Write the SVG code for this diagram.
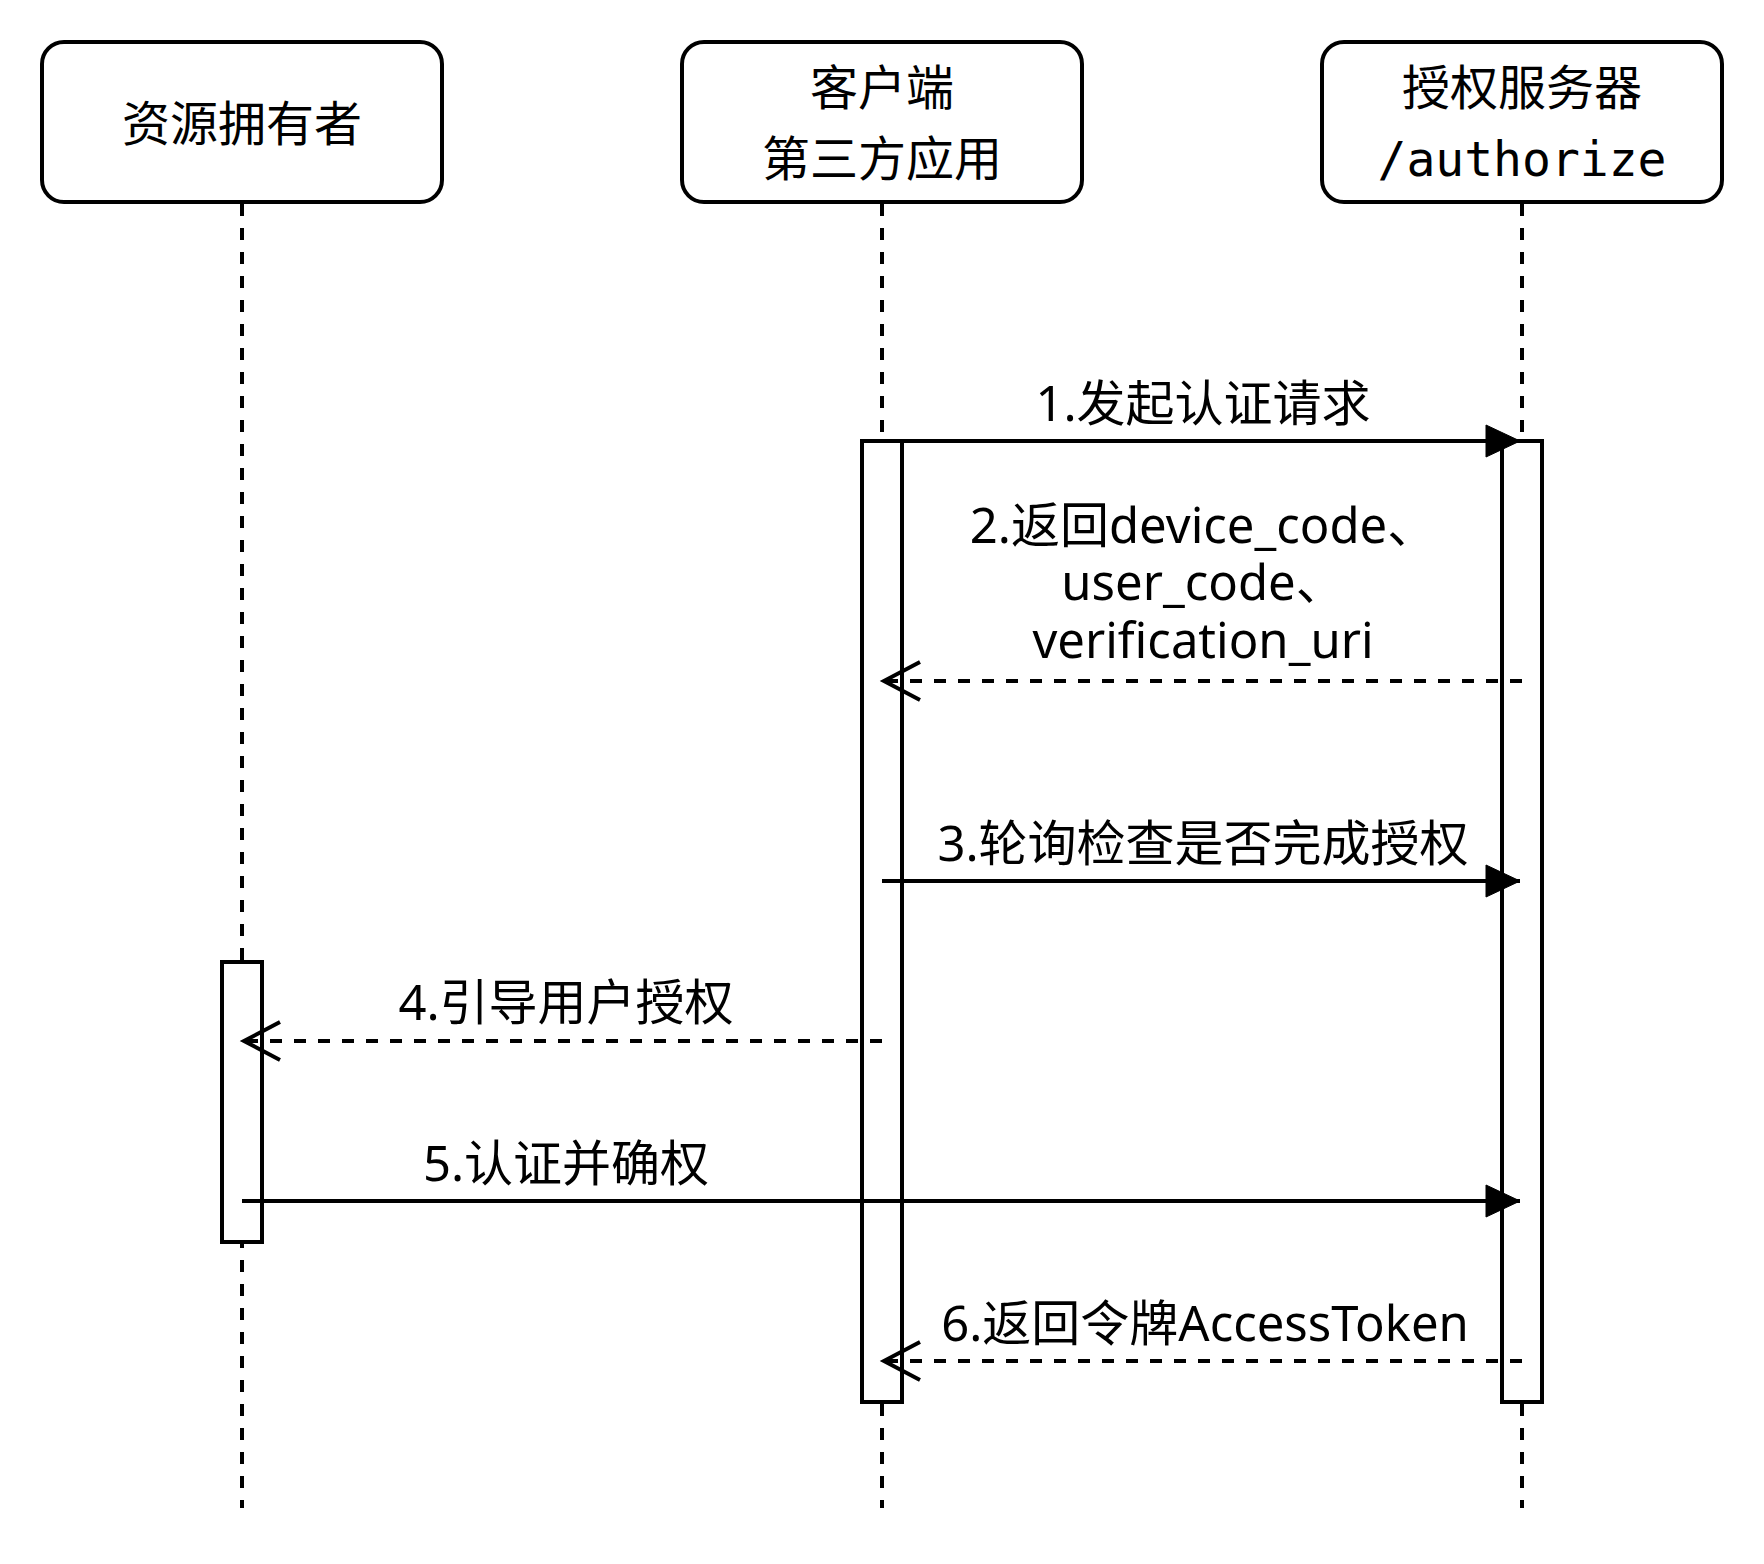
<svg xmlns="http://www.w3.org/2000/svg" width="1764" height="1564" viewBox="0 0 1764 1564">
  <style>
    .box{fill:#fff;stroke:#000;stroke-width:4}
    .life{fill:none;stroke:#000;stroke-width:4;stroke-dasharray:12 12}
    .act{fill:#fff;stroke:#000;stroke-width:4}
    .msg{fill:none;stroke:#000;stroke-width:4}
    .ret{fill:none;stroke:#000;stroke-width:4;stroke-dasharray:12 12}
    .t{font-family:"Noto Sans CJK SC","Noto Sans",sans-serif;font-size:48px;fill:#000;text-anchor:middle}
    .l{font-family:"Noto Sans","Noto Sans CJK SC",sans-serif;font-size:49px;fill:#000;text-anchor:middle}
    .m{font-family:"DejaVu Sans Mono","Liberation Mono",monospace;font-size:48px;fill:#000;text-anchor:middle}
  </style>
  <defs>
    <marker id="solid" markerUnits="userSpaceOnUse" markerWidth="40" markerHeight="40" refX="35" refY="17" orient="auto">
      <path d="M1,1 L35,17 L1,33 Z" fill="#000" stroke="#000" stroke-width="1"/>
    </marker>
    <marker id="open" markerUnits="userSpaceOnUse" markerWidth="44" markerHeight="44" refX="38" refY="21" orient="auto">
      <path d="M2,2 L38,21 L2,40" fill="none" stroke="#000" stroke-width="4"/>
    </marker>
  </defs>
  <rect width="1764" height="1564" fill="#fff"/>

  <g id="lifelines">
    <line class="life" x1="242" y1="204" x2="242" y2="1508"/>
    <line class="life" x1="882" y1="204" x2="882" y2="1508"/>
    <line class="life" x1="1522" y1="204" x2="1522" y2="1508"/>
  </g>

  <g id="node-owner">
    <rect class="box" x="42" y="42" width="400" height="160" rx="22"/>
    <text class="t" x="242" y="141">资源拥有者</text>
  </g>
  <g id="node-client">
    <rect class="box" x="682" y="42" width="400" height="160" rx="22"/>
    <text class="t" x="882" y="105">客户端</text>
    <text class="t" x="882" y="176">第三方应用</text>
  </g>
  <g id="node-server">
    <rect class="box" x="1322" y="42" width="400" height="160" rx="22"/>
    <text class="t" x="1522" y="105">授权服务器</text>
    <text class="m" x="1522" y="176">/authorize</text>
  </g>

  <g id="activations">
    <rect id="act-client" class="act" x="862" y="441" width="40" height="961"/>
    <rect id="act-server" class="act" x="1502" y="441" width="40" height="961"/>
    <rect id="act-owner" class="act" x="222" y="962" width="40" height="280"/>
  </g>

  <g id="connectors">
    <line class="msg" x1="882" y1="441" x2="1520" y2="441" marker-end="url(#solid)"/>
    <line class="ret" x1="1522" y1="681" x2="884" y2="681" marker-end="url(#open)"/>
    <line class="msg" x1="882" y1="881" x2="1520" y2="881" marker-end="url(#solid)"/>
    <line class="ret" x1="882" y1="1041" x2="244" y2="1041" marker-end="url(#open)"/>
    <line class="msg" x1="242" y1="1201" x2="1520" y2="1201" marker-end="url(#solid)"/>
    <line class="ret" x1="1522" y1="1361" x2="884" y2="1361" marker-end="url(#open)"/>
  </g>

  <g id="labels">
    <text class="l" x="1203" y="421">1.发起认证请求</text>
    <text class="l" x="1203" y="543">2.返回device_code、</text>
    <text class="l" x="1203" y="600">user_code、</text>
    <text class="l" x="1203" y="658">verification_uri</text>
    <text class="l" x="1203" y="861">3.轮询检查是否完成授权</text>
    <text class="l" x="566" y="1020">4.引导用户授权</text>
    <text class="l" x="566" y="1181">5.认证并确权</text>
    <text class="l" x="1205" y="1341">6.返回令牌AccessToken</text>
  </g>
</svg>
